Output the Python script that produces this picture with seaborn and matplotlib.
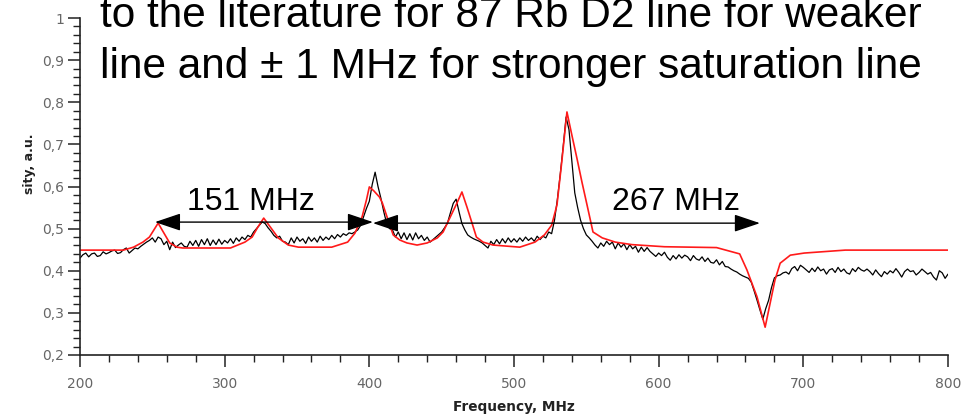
import numpy as np
import pandas as pd
import matplotlib
matplotlib.use("Agg")
import matplotlib.pyplot as plt
import seaborn as sns

# ---------------- data ----------------
# experimental spectrum (black), sampled every 2 MHz from 200 to 800 MHz
black_y = [
    .430, .438, .442, .433, .440, .442, .434, .436, .445, .440,  # 200
    .443, .447, .449, .441, .443, .450, .454, .442, .448, .454,  # 220
    .452, .458, .463, .468, .472, .478, .468, .480, .476, .462,  # 240
    .470, .450, .468, .455, .461, .466, .458, .456, .470, .460,  # 260
    .472, .458, .474, .462, .476, .460, .473, .462, .475, .463,  # 280
    .472, .466, .476, .465, .478, .470, .480, .474, .484, .480,  # 300
    .492, .500, .508, .516, .512, .502, .494, .484, .478, .482,  # 320
    .470, .468, .462, .478, .466, .480, .470, .476, .465, .480,  # 340
    .470, .478, .468, .482, .472, .480, .474, .484, .476, .486,  # 360
    .480, .488, .484, .490, .488, .492, .497, .508, .528, .548,  # 380
    .565, .605, .634, .600, .572, .540, .512, .500, .497, .480,  # 400
    .492, .476, .490, .474, .488, .473, .490, .476, .484, .472,  # 420
    .480, .468, .474, .480, .486, .492, .502, .513, .537, .560,  # 440
    .570, .540, .512, .497, .485, .480, .476, .473, .470, .466,  # 460
    .460, .454, .470, .462, .474, .464, .476, .466, .478, .468,  # 480
    .476, .468, .478, .470, .480, .472, .478, .470, .482, .474,  # 500
    .482, .478, .492, .488, .520, .570, .630, .695, .765, .735,  # 520
    .660, .585, .550, .520, .500, .485, .478, .470, .461, .454,  # 540
    .466, .458, .470, .462, .468, .452, .466, .456, .464, .450,  # 560
    .462, .452, .458, .444, .456, .446, .455, .446, .440, .434,  # 580
    .442, .436, .444, .432, .425, .436, .428, .438, .430, .437,  # 600
    .433, .424, .436, .428, .425, .433, .422, .430, .420, .418,  # 620
    .426, .414, .422, .410, .409, .404, .400, .397, .392, .388,  # 640
    .385, .382, .373, .352, .330, .307, .285, .310, .330, .360,  # 660
    .383, .388, .390, .395, .397, .392, .405, .410, .400, .413,  # 680
    .408, .402, .396, .406, .398, .409, .400, .404, .392, .402,  # 700
    .405, .396, .408, .398, .404, .395, .392, .405, .398, .408,  # 720
    .402, .399, .404, .398, .390, .402, .393, .386, .398, .392,  # 740
    .400, .395, .405, .396, .385, .398, .404, .398, .400, .390,  # 760
    .396, .404, .398, .392, .396, .385, .378, .400, .395, .382,  # 780
    .392,                                                        # 800
]
black_x = np.linspace(200, 800, len(black_y))

# fitted spectrum (red)
red_x = [200, 230, 237, 243.5, 248, 254, 262, 267, 271, 304,
         314, 319, 323, 327, 333, 337, 344, 351, 374, 385,
         390, 395, 398, 400, 403, 407, 409, 413, 416.5, 421,
         426, 433, 440, 447, 451, 456, 460.6, 464, 467.5, 471,
         474, 478.6, 485.5, 504, 514.5, 521, 526, 529.7, 533, 536.6,
         540, 543.5, 547, 550.5, 554.6, 561, 570, 581.6, 604, 640,
         656, 661, 668, 673.6, 680.4, 684, 691, 700.6, 729, 800]
red_y = [0.449, 0.449, 0.456, 0.468, 0.48, 0.513, 0.466, 0.456, 0.454, 0.454,
         0.468, 0.48, 0.504, 0.525, 0.497, 0.478, 0.461, 0.456, 0.456, 0.468,
         0.489, 0.528, 0.568, 0.599, 0.590, 0.575, 0.561, 0.52, 0.485, 0.473,
         0.466, 0.461, 0.466, 0.478, 0.492, 0.528, 0.561, 0.587, 0.551, 0.513,
         0.48, 0.468, 0.461, 0.456, 0.468, 0.485, 0.508, 0.556, 0.658, 0.777,
         0.722, 0.667, 0.61, 0.556, 0.492, 0.478, 0.468, 0.462, 0.457, 0.455,
         0.440, 0.402, 0.338, 0.266, 0.378, 0.418, 0.437, 0.442, 0.449, 0.449]

# spacing annotations
arrow_spans = [(251.8, 402.5, 0.5155), (402.5, 670.0, 0.513)]
arrow_labels = ["151 MHz", "267 MHz"]
label_x = [318.0, 612.0]
label_y = 0.545

y_ticks = [0.2, 0.3, 0.4, 0.5, 0.6, 0.7, 0.8, 0.9, 1.0]
y_tick_labels = ["0,2", "0,3", "0,4", "0,5", "0,6", "0,7", "0,8", "0,9", "1"]
x_ticks = [200, 300, 400, 500, 600, 700, 800]
x_tick_labels = ["200", "300", "400", "500", "600", "700", "800"]

title_lines = ["to the literature for 87 Rb D2 line for weaker",
               "line and \u00b1 1 MHz for stronger saturation line"]

# ---------------- plot ----------------
sns.set_style("ticks")
plt.rcParams['font.family'] = ['DejaVu Sans']

W, H = 970, 418
fig = plt.figure(figsize=(W / 100, H / 100), dpi=100)
ax = fig.add_axes([80 / W, 1 - 355 / H, (948 - 80) / W, (355 - 18) / H])

df_black = pd.DataFrame({"f": black_x, "v": black_y})
df_red = pd.DataFrame({"f": red_x, "v": red_y})
sns.lineplot(data=df_black, x="f", y="v", ax=ax, color="black", lw=0.9,
             sort=False, estimator=None)
sns.lineplot(data=df_red, x="f", y="v", ax=ax, color="#ff1a1a", lw=1.2,
             sort=False, estimator=None)

ax.set_xlim(200, 800)
ax.set_ylim(0.2, 1.0)
sns.despine(ax=ax)
for s in ("left", "bottom"):
    ax.spines[s].set_color("#222222")
    ax.spines[s].set_linewidth(1.2)

ax.set_xticks(x_ticks)
ax.set_xticklabels(x_tick_labels)
ax.set_yticks(y_ticks)
ax.set_yticklabels(y_tick_labels)
ax.set_xticks(np.arange(200, 801, 20), minor=True)
ax.set_yticks(np.arange(0.2, 1.001, 0.02), minor=True)
ax.tick_params(which="major", length=8.5, width=1.1, color="#222222",
               labelsize=10, labelcolor="#666666", direction="out")
ax.tick_params(which="minor", length=5, width=1.0, color="#222222", direction="out")
ax.tick_params(axis="x", which="major", pad=7.5)
ax.tick_params(axis="y", which="major", pad=3)

ax.set_xlabel("Frequency, MHz", fontsize=9.8, fontweight="bold", color="#222222", labelpad=6)
ax.set_ylabel("")
fig.text(30 / W, 1 - 164 / H, "sity, a.u.", rotation=90, fontsize=9,
         fontweight="bold", color="#222222", ha="center", va="center")

for (x0, x1, yy) in arrow_spans:
    ax.annotate("", xy=(x0, yy), xytext=(x1, yy),
                arrowprops=dict(arrowstyle="<|-|>,head_length=0.8,head_width=0.27",
                                mutation_scale=20, color="black", lw=1.0,
                                shrinkA=0, shrinkB=0))
for lx, lt in zip(label_x, arrow_labels):
    ax.text(lx, label_y, lt, fontsize=23, family="Liberation Sans",
            ha="center", va="baseline", color="black")

fig.text(100 / W, 1 - 27 / H, title_lines[0], fontsize=30.5, family="Liberation Sans",
         ha="left", va="baseline", color="black")
fig.text(100 / W, 1 - 78 / H, title_lines[1], fontsize=30.5, family="Liberation Sans",
         ha="left", va="baseline", color="black")

fig.savefig("out.png", dpi=100)
